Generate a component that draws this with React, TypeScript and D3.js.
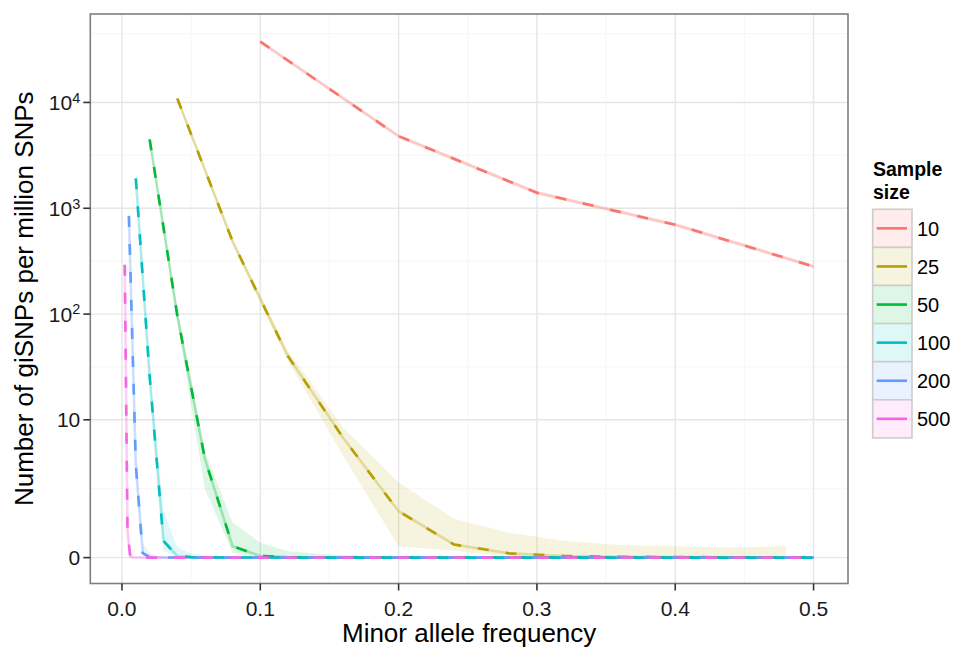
import { useEffect, useRef } from "react";
import * as d3 from "d3";

// legend order and ggplot hue colours
const sampleSizes = ["10", "25", "50", "100", "200", "500"];
const seriesColors = ["#F8766D", "#B79F00", "#00BA38", "#00BFC4", "#619CFF", "#F564E3"];

// n = 10
const maf10 = [0.1, 0.2, 0.3, 0.4, 0.5];
const mid10 = [37500, 4800, 1400, 700, 282];
const lo10 = [36000, 4600, 1340, 670, 270];
const hi10 = [39000, 5000, 1460, 730, 294];

// n = 25
const maf25 = [0.04, 0.08, 0.12, 0.16, 0.2, 0.24, 0.28, 0.32, 0.36, 0.4, 0.44, 0.48];
const mid25 = [10900, 485, 40, 6.7, 1.19, 0.29, 0.093, 0.035, 0.02, 0.012, 0.008, 0.005];
const lo25 = [10400, 460, 36, 4.5, 0.25, 0.15, 0.02, 0.005, 0, 0, 0, 0];
const hi25 = [11400, 510, 45, 8.4, 2.46, 0.95, 0.57, 0.37, 0.28, 0.25, 0.22, 0.25];

// n = 50
const maf50 = [0.02, 0.04, 0.06, 0.08, 0.1, 0.12, 0.14, 0.16, 0.2, 0.3, 0.4, 0.5];
const mid50 = [4480, 97, 4.2, 0.25, 0.035, 0.01, 0.005, 0.003, 0.002, 0.001, 0.001, 0];
const lo50 = [4300, 85, 2.1, 0.1, 0, 0, 0, 0, 0, 0, 0, 0];
const hi50 = [4650, 110, 5.0, 0.84, 0.33, 0.14, 0.09, 0.05, 0.03, 0.01, 0.01, 0.01];

// n = 100
const maf100 = [0.01, 0.02, 0.03, 0.04, 0.05, 0.06, 0.08, 0.1, 0.2, 0.3, 0.4, 0.5];
const mid100 = [1920, 26, 0.37, 0.035, 0.01, 0.005, 0.002, 0.001, 0, 0, 0, 0];
const lo100 = [1850, 23, 0.15, 0, 0, 0, 0, 0, 0, 0, 0, 0];
const hi100 = [2000, 29, 1.2, 0.22, 0.09, 0.04, 0.02, 0.01, 0.005, 0, 0, 0];

// n = 200
const maf200 = [0.005, 0.01, 0.015, 0.02, 0.025, 0.03, 0.04, 0.05, 0.1, 0.2, 0.3, 0.4, 0.5];
const mid200 = [847, 3.7, 0.1, 0.01, 0.005, 0.002, 0.001, 0, 0, 0, 0, 0, 0];
const lo200 = [810, 3.0, 0.03, 0, 0, 0, 0, 0, 0, 0, 0, 0, 0];
const hi200 = [885, 4.5, 0.33, 0.1, 0.04, 0.02, 0.01, 0.005, 0, 0, 0, 0, 0];

// n = 500
const maf500 = [0.002, 0.004, 0.006, 0.008, 0.01, 0.02, 0.05, 0.1, 0.2, 0.3, 0.4, 0.5];
const mid500 = [293, 0.6, 0.02, 0.005, 0.001, 0, 0, 0, 0, 0, 0, 0];
const lo500 = [280, 0.4, 0, 0, 0, 0, 0, 0, 0, 0, 0, 0];
const hi500 = [306, 0.9, 0.1, 0.03, 0.01, 0.005, 0, 0, 0, 0, 0, 0];

const mafs = [maf10, maf25, maf50, maf100, maf200, maf500];
const mids = [mid10, mid25, mid50, mid100, mid200, mid500];
const los = [lo10, lo25, lo50, lo100, lo200, lo500];
const his = [hi10, hi25, hi50, hi100, hi200, hi500];

const xBreaks = [0, 0.1, 0.2, 0.3, 0.4, 0.5];
const xLabels = ["0.0", "0.1", "0.2", "0.3", "0.4", "0.5"];
const yBreaks = [0, 10, 100, 1000, 10000];
const yLabels = ["0", "10", "10", "10", "10"];
const yExps = ["", "", "2", "3", "4"];

const FONT = "'Liberation Sans', Arial, Helvetica, sans-serif";

function App() {
    const ref = useRef(null);

    useEffect(() => {
        const width = 956, height = 649;
        const panel = {left: 90.3, top: 14, right: 848, bottom: 583.5};

        const svg = d3.select(ref.current)
            .attr("width", width)
            .attr("height", height);
        svg.selectAll("*").remove();

        svg.append("rect").attr("width", width).attr("height", height).attr("fill", "white");

        // one row per point, grouped by sample size
        const series = sampleSizes.map((s, i) => ({
            name: s,
            color: seriesColors[i],
            pts: mafs[i].map((m, j) => ({x: m, y: mids[i][j], lo: los[i][j], hi: his[i][j]}))
        }));

        // x: linear with 5% expansion like ggplot
        const allX = series.flatMap(s => s.pts.map(p => p.x));
        const xmin = d3.min(allX), xmax = d3.max(allX);
        const xr = xmax - xmin;
        const x = d3.scaleLinear()
            .domain([xmin - 0.05 * xr, xmax + 0.05 * xr])
            .range([panel.left, panel.right]);

        // y: asinh transform (log-like, but keeps 0)
        const tr = (v) => Math.asinh(v);
        const tmax = d3.max(series.flatMap(s => s.pts.map(p => tr(p.hi))));
        const ty = d3.scaleLinear()
            .domain([0 - 0.05 * tmax, tmax + 0.05 * tmax])
            .range([panel.bottom, panel.top]);
        const y = (v) => ty(tr(v));

        // gridlines
        const tBreaks = yBreaks.map(tr);
        const yMinor = [];
        for (let i = 0; i < tBreaks.length - 1; i++) yMinor.push((tBreaks[i] + tBreaks[i + 1]) / 2);
        yMinor.push(tBreaks[tBreaks.length - 1] + (tBreaks[1] - tBreaks[0]) / 2);
        const xMinor = xBreaks.slice(0, -1).map((b, i) => (b + xBreaks[i + 1]) / 2);

        const grid = svg.append("g");
        grid.selectAll(".ymin").data(yMinor.filter(t => ty(t) > panel.top)).enter().append("line")
            .attr("x1", panel.left).attr("x2", panel.right)
            .attr("y1", d => ty(d)).attr("y2", d => ty(d))
            .attr("stroke", "#F7F7F7").attr("stroke-width", 1.2);
        grid.selectAll(".xmin").data(xMinor).enter().append("line")
            .attr("y1", panel.top).attr("y2", panel.bottom)
            .attr("x1", d => x(d)).attr("x2", d => x(d))
            .attr("stroke", "#F7F7F7").attr("stroke-width", 1.2);
        grid.selectAll(".ymaj").data(tBreaks).enter().append("line")
            .attr("x1", panel.left).attr("x2", panel.right)
            .attr("y1", d => ty(d)).attr("y2", d => ty(d))
            .attr("stroke", "#E6E6E6").attr("stroke-width", 1.4);
        grid.selectAll(".xmaj").data(xBreaks).enter().append("line")
            .attr("y1", panel.top).attr("y2", panel.bottom)
            .attr("x1", d => x(d)).attr("x2", d => x(d))
            .attr("stroke", "#E6E6E6").attr("stroke-width", 1.4);

        const area = d3.area()
            .x(d => x(d.x))
            .y0(d => y(d.lo))
            .y1(d => y(d.hi));
        const line = d3.line()
            .x(d => x(d.x))
            .y(d => y(d.y));

        // ribbons
        svg.append("g").selectAll("path").data(series).enter().append("path")
            .attr("d", d => area(d.pts))
            .attr("fill", d => d.color)
            .attr("fill-opacity", 0.13);

        // pale solid lines
        svg.append("g").selectAll("path").data(series).enter().append("path")
            .attr("d", d => line(d.pts))
            .attr("fill", "none")
            .attr("stroke", d => d.color)
            .attr("stroke-opacity", 0.3)
            .attr("stroke-width", 2.6);

        // dashed lines
        svg.append("g").selectAll("path").data(series).enter().append("path")
            .attr("d", d => line(d.pts))
            .attr("fill", "none")
            .attr("stroke", d => d.color)
            .attr("stroke-width", 2.6)
            .attr("stroke-dasharray", "11,17");

        // panel border
        svg.append("rect")
            .attr("x", panel.left).attr("y", panel.top)
            .attr("width", panel.right - panel.left).attr("height", panel.bottom - panel.top)
            .attr("fill", "none").attr("stroke", "#7F7F7F").attr("stroke-width", 1.6);

        // y axis
        svg.selectAll(".yt").data(tBreaks).enter().append("line")
            .attr("x1", panel.left - 7).attr("x2", panel.left)
            .attr("y1", d => ty(d)).attr("y2", d => ty(d))
            .attr("stroke", "#333").attr("stroke-width", 1.6);
        const ylab = svg.selectAll(".yl").data(yBreaks).enter().append("text")
            .attr("x", panel.left - 10)
            .attr("y", d => y(d))
            .attr("dy", "0.36em")
            .attr("text-anchor", "end")
            .attr("font-family", FONT).attr("font-size", 21).attr("fill", "#1a1a1a");
        ylab.append("tspan").text((d, i) => yLabels[i]);
        ylab.append("tspan")
            .attr("font-size", 14.5)
            .attr("dy", "-0.5em")
            .text((d, i) => yExps[i]);

        // x axis
        svg.selectAll(".xt").data(xBreaks).enter().append("line")
            .attr("y1", panel.bottom).attr("y2", panel.bottom + 7)
            .attr("x1", d => x(d)).attr("x2", d => x(d))
            .attr("stroke", "#333").attr("stroke-width", 1.6);
        svg.selectAll(".xl").data(xBreaks).enter().append("text")
            .attr("x", d => x(d))
            .attr("y", 616)
            .attr("text-anchor", "middle")
            .attr("font-family", FONT).attr("font-size", 21).attr("fill", "#1a1a1a")
            .text((d, i) => xLabels[i]);

        // axis titles
        svg.append("text")
            .attr("x", (panel.left + panel.right) / 2)
            .attr("y", 642)
            .attr("text-anchor", "middle")
            .attr("font-family", FONT).attr("font-size", 26)
            .text("Minor allele frequency");
        svg.append("text")
            .attr("transform", `translate(33,${(panel.top + panel.bottom) / 2}) rotate(-90)`)
            .attr("text-anchor", "middle")
            .attr("font-family", FONT).attr("font-size", 26)
            .text("Number of giSNPs per million SNPs");

        // legend
        const lg = svg.append("g");
        lg.append("text").attr("x", 873).attr("y", 176)
            .attr("font-family", FONT).attr("font-size", 19.5).attr("font-weight", "bold")
            .text("Sample");
        lg.append("text").attr("x", 873).attr("y", 198.5)
            .attr("font-family", FONT).attr("font-size", 19.5).attr("font-weight", "bold")
            .text("size");

        const keyTop = 209.3, keyH = 38.1, keyX = 872.7, keyW = 39.3;
        const keys = lg.selectAll(".key").data(series).enter().append("g")
            .attr("transform", (d, i) => `translate(${keyX},${keyTop + i * keyH})`);
        keys.append("rect")
            .attr("width", keyW).attr("height", keyH)
            .attr("fill", "white")
            .attr("stroke", "#CCCCCC").attr("stroke-width", 1.6);
        keys.append("rect")
            .attr("x", 0.8).attr("y", 0.8)
            .attr("width", keyW - 1.6).attr("height", keyH - 1.6)
            .attr("fill", d => d.color).attr("fill-opacity", 0.13);
        keys.append("line")
            .attr("x1", 4).attr("x2", keyW - 5)
            .attr("y1", keyH / 2).attr("y2", keyH / 2)
            .attr("stroke", d => d.color).attr("stroke-width", 2.6);
        keys.append("text")
            .attr("x", keyW + 5).attr("y", keyH / 2).attr("dy", "0.36em")
            .attr("font-family", FONT).attr("font-size", 20)
            .text(d => d.name);
    }, []);

    return <svg ref={ref} style={{position: "absolute", left: 0, top: 0}}></svg>
}

export default App;
